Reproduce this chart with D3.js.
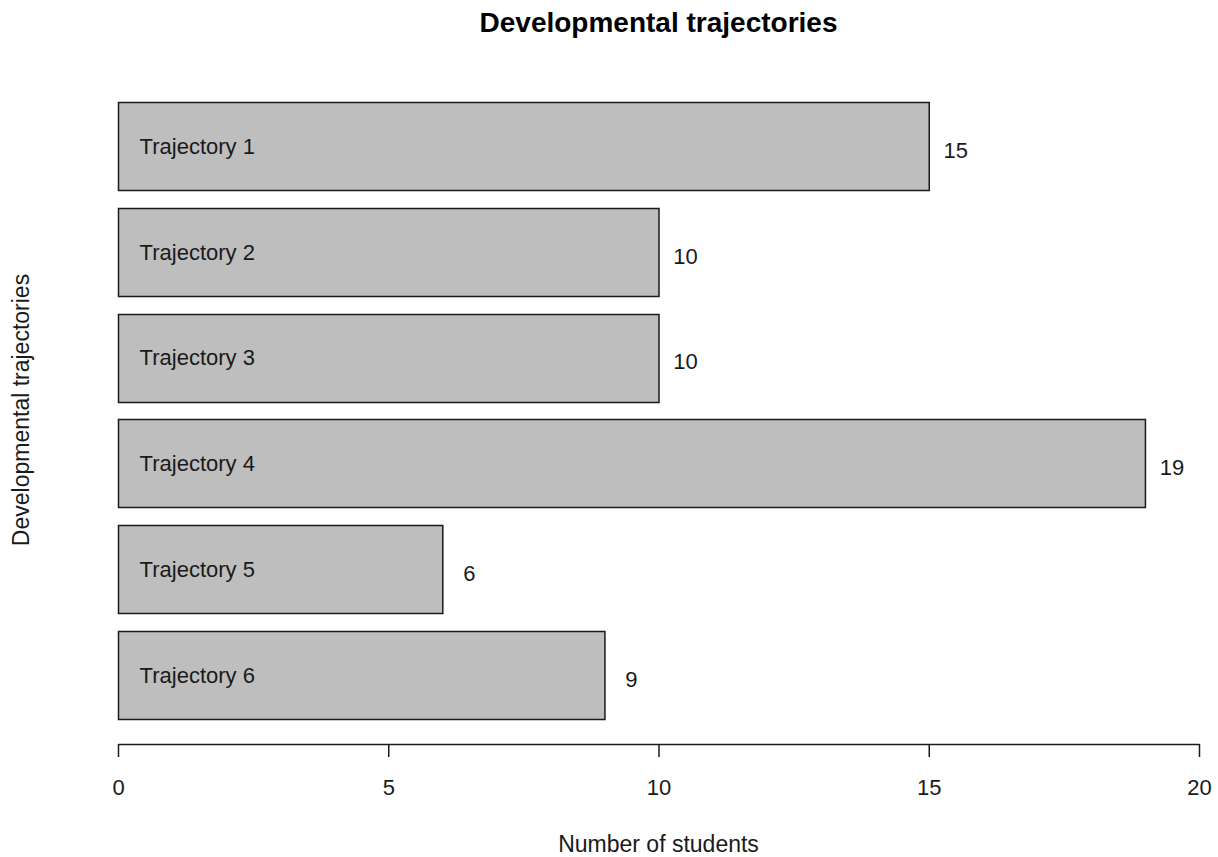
<!DOCTYPE html>
<html>
<head>
<meta charset="utf-8">
<script src="https://cdn.jsdelivr.net/npm/d3@7"></script>
<style>
  body{margin:0;background:#fff;}
  svg text{font-family:"Liberation Sans",Arial,sans-serif;fill:#1a1a1a;}
</style>
</head>
<body>
<div id="chart"></div>
<script>
// data
var categories=['Trajectory 1','Trajectory 2','Trajectory 3','Trajectory 4','Trajectory 5','Trajectory 6'];
var counts=[15,10,10,19,6,9];
var xTicks=[0,5,10,15,20];

var W=1218,H=857;
var svg=d3.select('#chart').append('svg').attr('width',W).attr('height',H);

var x=d3.scaleLinear().domain([0,20]).range([118,1199]);
var y=d3.scaleBand().domain(categories).range([102,719]).paddingInner(0.2/1.2).paddingOuter(0);
var axisY=744;

var rows=categories.map(function(c,i){return {name:c,value:counts[i]};});

// bars
svg.append('g').selectAll('rect').data(rows).enter().append('rect')
  .attr('x',x(0)+0.5)
  .attr('y',function(d){return Math.round(y(d.name))+0.5;})
  .attr('width',function(d){return x(d.value)-x(0);})
  .attr('height',Math.round(y.bandwidth()))
  .attr('fill','#bebebe')
  .attr('stroke','#1a1a1a')
  .attr('stroke-width',1.5);

// names inside bars
svg.append('g').selectAll('text').data(rows).enter().append('text')
  .attr('x',x(0.4))
  .attr('y',function(d){return y(d.name)+y.bandwidth()/2;})
  .attr('dy','0.35em')
  .attr('font-size',22)
  .text(function(d){return d.name;});

// value labels
svg.append('g').selectAll('text').data(rows).enter().append('text')
  .attr('x',function(d){return x(d.value+0.5);})
  .attr('y',function(d){return y(d.name)+y.bandwidth()/2+4;})
  .attr('dy','0.35em')
  .attr('text-anchor','middle')
  .attr('font-size',22)
  .text(function(d){return d.value;});

// x axis
var gx=svg.append('g').attr('transform','translate(0,'+axisY+')')
  .call(d3.axisBottom(x).tickValues(xTicks).tickSize(13).tickPadding(22).tickSizeOuter(0));
gx.select('.domain').attr('stroke','#1a1a1a').attr('stroke-width',1.5);
gx.selectAll('.tick line').attr('stroke','#1a1a1a').attr('stroke-width',1.5);
gx.selectAll('.tick text').attr('font-size',22).attr('fill','#1a1a1a')
  .style('font-family','"Liberation Sans",Arial,sans-serif');

// title
svg.append('text')
  .attr('x',(x(0)+x(20))/2).attr('y',32)
  .attr('text-anchor','middle')
  .attr('font-size',28).attr('font-weight','bold')
  .style('fill','#000')
  .text('Developmental trajectories');

// axis titles
svg.append('text')
  .attr('x',(x(0)+x(20))/2).attr('y',852)
  .attr('text-anchor','middle')
  .attr('font-size',23)
  .text('Number of students');

svg.append('text')
  .attr('transform','translate(29,410) rotate(-90)')
  .attr('text-anchor','middle')
  .attr('font-size',23)
  .text('Developmental trajectories');
</script>
</body>
</html>
